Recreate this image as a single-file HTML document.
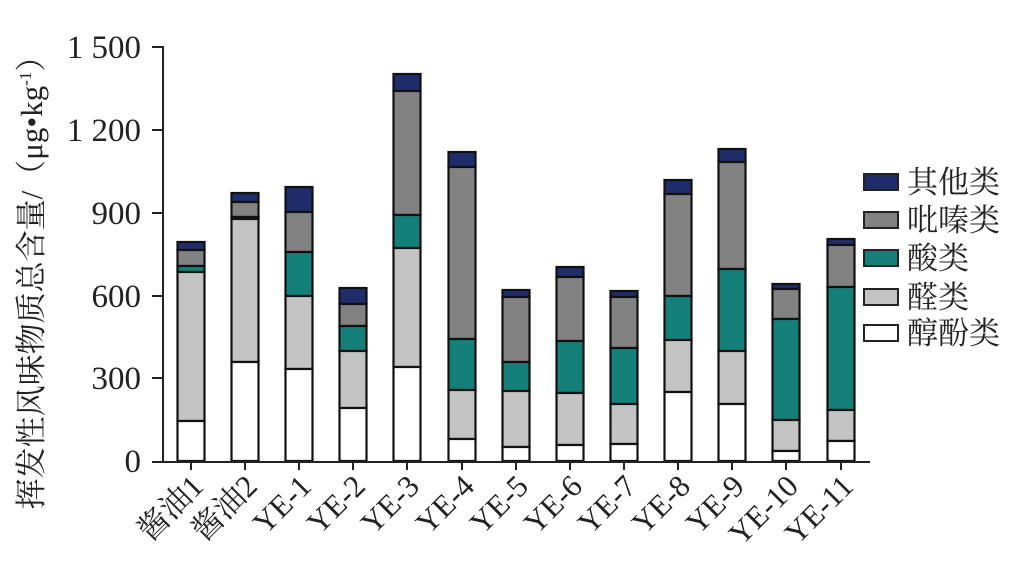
<!DOCTYPE html>
<html><head><meta charset="utf-8"><style>
html,body{margin:0;padding:0;background:#fff;}
svg{display:block;font-family:"Liberation Serif","Noto Serif CJK SC",serif;}
.a{fill:#1f2d6b}.b{fill:#828282}.c{fill:#148079}.d{fill:#c3c3c3}.e{fill:#fff}
</style></head><body>
<svg width="1016" height="579" viewBox="0 0 1016 579" xmlns="http://www.w3.org/2000/svg">
<g stroke="#111" stroke-width="2.2">
<g transform="translate(177.5,0)"><rect class="a" y="242" width="27" height="8"/><rect class="b" y="250" width="27" height="16"/><rect class="c" y="266" width="27" height="6"/><rect class="d" y="272" width="27" height="149"/><rect class="e" y="421" width="27" height="40"/></g>
<g transform="translate(231.5,0)"><rect class="a" y="193" width="27" height="9"/><rect class="b" y="202" width="27" height="15"/><rect class="c" y="217" width="27" height="2"/><rect class="d" y="219" width="27" height="143"/><rect class="e" y="362" width="27" height="99"/></g>
<g transform="translate(285.5,0)"><rect class="a" y="187" width="27" height="25"/><rect class="b" y="212" width="27" height="40"/><rect class="c" y="252" width="27" height="44"/><rect class="d" y="296" width="27" height="73"/><rect class="e" y="369" width="27" height="92"/></g>
<g transform="translate(339.5,0)"><rect class="a" y="288" width="27" height="16"/><rect class="b" y="304" width="27" height="22"/><rect class="c" y="326" width="27" height="25"/><rect class="d" y="351" width="27" height="57"/><rect class="e" y="408" width="27" height="53"/></g>
<g transform="translate(393.5,0)"><rect class="a" y="74" width="27" height="17"/><rect class="b" y="91" width="27" height="124"/><rect class="c" y="215" width="27" height="33"/><rect class="d" y="248" width="27" height="119"/><rect class="e" y="367" width="27" height="94"/></g>
<g transform="translate(448.5,0)"><rect class="a" y="152" width="27" height="15"/><rect class="b" y="167" width="27" height="172"/><rect class="c" y="339" width="27" height="51"/><rect class="d" y="390" width="27" height="49"/><rect class="e" y="439" width="27" height="22"/></g>
<g transform="translate(502.5,0)"><rect class="a" y="290" width="27" height="7"/><rect class="b" y="297" width="27" height="65"/><rect class="c" y="362" width="27" height="29"/><rect class="d" y="391" width="27" height="56"/><rect class="e" y="447" width="27" height="14"/></g>
<g transform="translate(556.5,0)"><rect class="a" y="267" width="27" height="10"/><rect class="b" y="277" width="27" height="64"/><rect class="c" y="341" width="27" height="52"/><rect class="d" y="393" width="27" height="52"/><rect class="e" y="445" width="27" height="16"/></g>
<g transform="translate(610.5,0)"><rect class="a" y="291" width="27" height="6"/><rect class="b" y="297" width="27" height="51"/><rect class="c" y="348" width="27" height="56"/><rect class="d" y="404" width="27" height="40"/><rect class="e" y="444" width="27" height="17"/></g>
<g transform="translate(664.5,0)"><rect class="a" y="180" width="27" height="14"/><rect class="b" y="194" width="27" height="102"/><rect class="c" y="296" width="27" height="44"/><rect class="d" y="340" width="27" height="52"/><rect class="e" y="392" width="27" height="69"/></g>
<g transform="translate(718.5,0)"><rect class="a" y="149" width="27" height="13"/><rect class="b" y="162" width="27" height="107"/><rect class="c" y="269" width="27" height="82"/><rect class="d" y="351" width="27" height="53"/><rect class="e" y="404" width="27" height="57"/></g>
<g transform="translate(772.5,0)"><rect class="a" y="284" width="27" height="5"/><rect class="b" y="289" width="27" height="30"/><rect class="c" y="319" width="27" height="101"/><rect class="d" y="420" width="27" height="31"/><rect class="e" y="451" width="27" height="10"/></g>
<g transform="translate(827.5,0)"><rect class="a" y="239" width="27" height="6"/><rect class="b" y="245" width="27" height="42"/><rect class="c" y="287" width="27" height="123"/><rect class="d" y="410" width="27" height="31"/><rect class="e" y="441" width="27" height="20"/></g>
</g>
<g stroke="#222" stroke-width="2" fill="none">
<line x1="163" y1="46" x2="163" y2="462"/>
<line x1="152" y1="462" x2="870" y2="462"/>
<line x1="152" y1="47" x2="163" y2="47"/>
<line x1="152" y1="130" x2="163" y2="130"/>
<line x1="152" y1="213" x2="163" y2="213"/>
<line x1="152" y1="296" x2="163" y2="296"/>
<line x1="152" y1="378" x2="163" y2="378"/>
<line x1="191" y1="462" x2="191" y2="470"/><line x1="245" y1="462" x2="245" y2="470"/><line x1="299" y1="462" x2="299" y2="470"/><line x1="353" y1="462" x2="353" y2="470"/><line x1="407" y1="462" x2="407" y2="470"/><line x1="462" y1="462" x2="462" y2="470"/><line x1="516" y1="462" x2="516" y2="470"/><line x1="570" y1="462" x2="570" y2="470"/><line x1="624" y1="462" x2="624" y2="470"/><line x1="678" y1="462" x2="678" y2="470"/><line x1="732" y1="462" x2="732" y2="470"/><line x1="786" y1="462" x2="786" y2="470"/><line x1="841" y1="462" x2="841" y2="470"/>
</g>
<g font-size="33" fill="#222" text-anchor="end">
<text x="141" y="58">1 500</text>
<text x="141" y="141">1 200</text>
<text x="141" y="224">900</text>
<text x="141" y="307">600</text>
<text x="141" y="389">300</text>
<text x="141" y="472">0</text>
</g>
<text transform="translate(42,275) rotate(-90)" font-size="31" fill="#222" text-anchor="middle">挥发性风味物质总含量/（μg•kg<tspan font-size="17" dy="-11">-1</tspan><tspan dy="11">）</tspan></text>
<g font-size="31" fill="#222" text-anchor="end">
<text transform="translate(205,488) rotate(-45)">酱油1</text>
<text transform="translate(259,488) rotate(-45)">酱油2</text>
<text transform="translate(313,488) rotate(-45)">YE-1</text>
<text transform="translate(367,488) rotate(-45)">YE-2</text>
<text transform="translate(421,488) rotate(-45)">YE-3</text>
<text transform="translate(476,488) rotate(-45)">YE-4</text>
<text transform="translate(530,488) rotate(-45)">YE-5</text>
<text transform="translate(584,488) rotate(-45)">YE-6</text>
<text transform="translate(638,488) rotate(-45)">YE-7</text>
<text transform="translate(692,488) rotate(-45)">YE-8</text>
<text transform="translate(746,488) rotate(-45)">YE-9</text>
<text transform="translate(800,488) rotate(-45)">YE-10</text>
<text transform="translate(855,488) rotate(-45)">YE-11</text>
</g>
<g stroke="#222" stroke-width="2">
<rect x="864" y="174" width="34" height="16" fill="#1f2d6b"/>
<rect x="864" y="212" width="34" height="16" fill="#828282"/>
<rect x="864" y="250" width="34" height="16" fill="#148079"/>
<rect x="864" y="289" width="34" height="16" fill="#c3c3c3"/>
<rect x="864" y="325" width="34" height="16" fill="#ffffff"/>
</g>
<g font-size="31" fill="#222">
<text x="907" y="193">其他类</text>
<text x="907" y="231">吡嗪类</text>
<text x="907" y="269">酸类</text>
<text x="907" y="308">醛类</text>
<text x="907" y="344">醇酚类</text>
</g>
</svg>
</body></html>
